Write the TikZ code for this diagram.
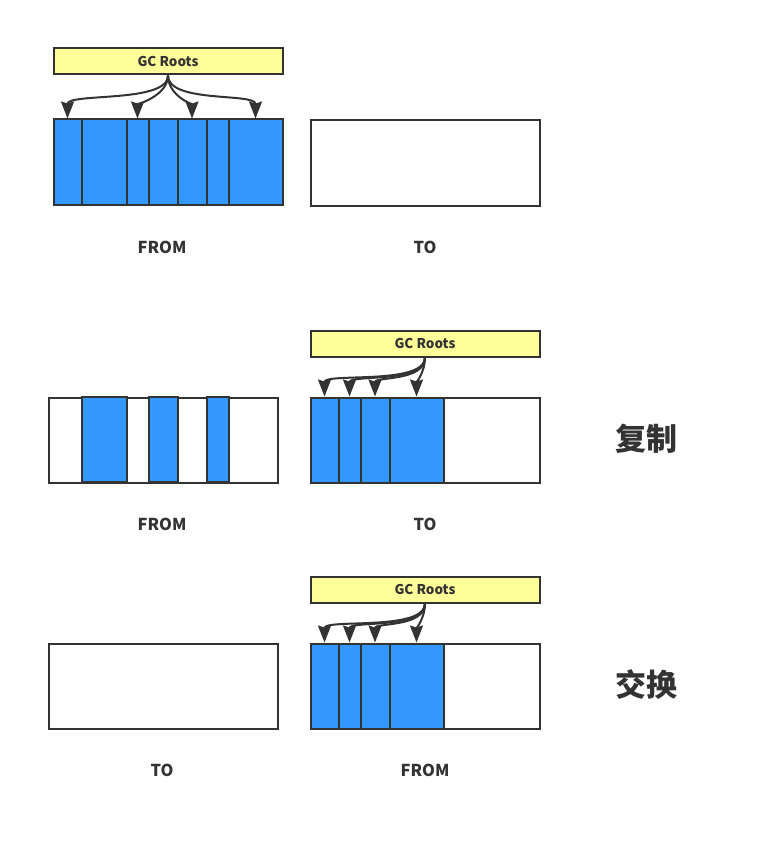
\documentclass[tikz,border=0pt]{standalone}
\usepackage{fontspec}
\setmainfont{Noto Sans CJK SC}
\usetikzlibrary{arrows.meta, positioning}
\usepackage{xcolor}
\definecolor{objblue}{HTML}{3399FF}
\definecolor{rootyellow}{HTML}{FFFF99}
\definecolor{ink}{HTML}{333333}
\tikzstyle{space} = [rectangle, draw=ink, line width=2pt, fill=white,
    minimum width=229pt, minimum height=85pt, inner sep=0pt, anchor=north west]
\tikzstyle{obj} = [rectangle, draw=ink, line width=2pt, fill=objblue,
    minimum height=85pt, inner sep=0pt, anchor=north west]
\tikzstyle{roots} = [rectangle, draw=ink, line width=2pt, fill=rootyellow,
    minimum width=229pt, minimum height=26pt, inner sep=0pt, anchor=north west,
    text=ink, font=\bfseries\fontsize{13.5}{15}\selectfont]
\tikzstyle{arrow} = [line width=2pt, draw=ink, -{Stealth[length=17pt, width=13pt, inset=2pt]}]
\tikzstyle{lbl} = [text=ink, font=\bfseries\fontsize{16.4}{19}\selectfont]
\tikzstyle{stage} = [text=ink, font=\bfseries\fontsize{31}{36}\selectfont]

\begin{document}
\begin{tikzpicture}[x=1pt, y=-1pt]
\useasboundingbox (0,0) rectangle (758,848);

% --- fila 1: antes de la copia ---
\node (roots1) [roots] at (52.5,47.5) {GC Roots};
\node (f1a) [obj, minimum width=28pt] at (52.5,118.5) {};
\node (f1b) [obj, minimum width=45pt] at (80.5,118.5) {};
\node (f1c) [obj, minimum width=22pt] at (125.5,118.5) {};
\node (f1d) [obj, minimum width=29pt] at (147.5,118.5) {};
\node (f1e) [obj, minimum width=29pt] at (176.5,118.5) {};
\node (f1f) [obj, minimum width=22pt] at (205.5,118.5) {};
\node (f1g) [obj, minimum width=54pt] at (227.5,118.5) {};
\node (to1) [space] at (309.5,119.5) {};
\node (from1lbl) [lbl] at (162,247) {FROM};
\node (to1lbl) [lbl] at (425,247) {TO};

\draw[arrow] (roots1.south) .. controls +(0,28) and +(0,-26) .. (f1a.north);
\draw[arrow] (roots1.south) .. controls +(0,20) and +(0,-14) .. (f1c.north);
\draw[arrow] (roots1.south) .. controls +(0,20) and +(0,-14) .. (f1e.north);
\draw[arrow] (roots1.south) .. controls +(0,28) and +(0,-26) .. (f1g.north);

% --- fila 2: copiar ---
\node (from2) [space] at (47.5,396.5) {};
\node (f2a) [obj, minimum width=45pt] at (80.5,396) {};
\node (f2b) [obj, minimum width=29pt] at (147.5,396) {};
\node (f2c) [obj, minimum width=22pt] at (205.5,396) {};
\node (to2) [space] at (309.5,396.5) {};
\node (t2a) [obj, minimum width=28pt] at (309.5,396.5) {};
\node (t2b) [obj, minimum width=22pt] at (337.5,396.5) {};
\node (t2c) [obj, minimum width=29pt] at (359.5,396.5) {};
\node (t2d) [obj, minimum width=54pt] at (388.5,396.5) {};
\node (roots2) [roots] at (309.5,329.5) {GC Roots};
\node (from2lbl) [lbl] at (162,524) {FROM};
\node (to2lbl) [lbl] at (425,524) {TO};
\node (copy) [stage] at (646,439) {复制};

\draw[arrow] (roots2.south) .. controls +(0,28) and +(0,-24) .. (t2a.north);
\draw[arrow] (roots2.south) .. controls +(0,26) and +(0,-22) .. (t2b.north);
\draw[arrow] (roots2.south) .. controls +(0,24) and +(0,-20) .. (t2c.north);
\draw[arrow] (roots2.south) .. controls +(0,14) and +(0,-14) .. (t2d.north);

% --- fila 3: intercambio ---
\node (to3) [space] at (47.5,642.5) {};
\node (from3) [space] at (309.5,642.5) {};
\node (t3a) [obj, minimum width=28pt] at (309.5,642.5) {};
\node (t3b) [obj, minimum width=22pt] at (337.5,642.5) {};
\node (t3c) [obj, minimum width=29pt] at (359.5,642.5) {};
\node (t3d) [obj, minimum width=54pt] at (388.5,642.5) {};
\node (roots3) [roots] at (309.5,575.5) {GC Roots};
\node (to3lbl) [lbl] at (162,770) {TO};
\node (from3lbl) [lbl] at (425,770) {FROM};
\node (swap) [stage] at (646,685) {交换};

\draw[arrow] (roots3.south) .. controls +(0,28) and +(0,-24) .. (t3a.north);
\draw[arrow] (roots3.south) .. controls +(0,26) and +(0,-22) .. (t3b.north);
\draw[arrow] (roots3.south) .. controls +(0,24) and +(0,-20) .. (t3c.north);
\draw[arrow] (roots3.south) .. controls +(0,14) and +(0,-14) .. (t3d.north);
\end{tikzpicture}
\end{document}
